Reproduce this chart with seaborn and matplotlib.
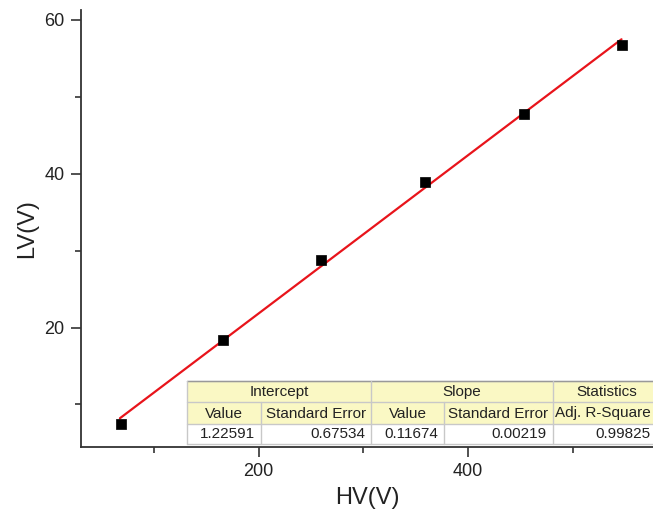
import numpy as np
import pandas as pd
import seaborn as sns
import matplotlib
matplotlib.use("Agg")
import matplotlib.pyplot as plt
from matplotlib.patches import Rectangle
from matplotlib.ticker import MultipleLocator

# ---- data ----
hv = [68.4, 165.8, 259.8, 359.3, 453.2, 546.7]
lv = [7.5, 18.4, 28.8, 38.9, 47.8, 56.8]
x_label = "HV(V)"
y_label = "LV(V)"
table_groups = ["Intercept", "Slope", "Statistics"]
table_cols = ["Value", "Standard Error", "Value", "Standard Error", "Adj. R-Square"]
table_vals = ["1.22591", "0.67534", "0.11674", "0.00219", "0.99825"]

sns.set_style("ticks")
plt.rcParams['font.family'] = ['Liberation Sans', 'DejaVu Sans']

W, H = 653, 516
fig = plt.figure(figsize=(W / 100, H / 100), dpi=100)
ax = fig.add_axes([81 / W, 1 - 446.7 / H, 1 - 81 / W, (446.7 - 10) / H])

df = pd.DataFrame({"HV": hv, "LV": lv})
slope, intercept = np.polyfit(df["HV"], df["LV"], 1)
xs = np.array([df["HV"].min() - 1, df["HV"].max()])
sns.lineplot(x=xs, y=intercept + slope * xs, ax=ax, color="#e8141b", lw=1.6, zorder=2)
sns.scatterplot(data=df, x="HV", y="LV", ax=ax, marker="s", s=62, color="black",
                edgecolor="black", linewidth=0.5, zorder=3)

ax.set_xlim(30.2, 576.8)
ax.set_ylim(4.5, 61.3)
ax.xaxis.set_major_locator(MultipleLocator(200))
ax.xaxis.set_minor_locator(MultipleLocator(100))
ax.yaxis.set_major_locator(MultipleLocator(20))
ax.yaxis.set_minor_locator(MultipleLocator(10))
ax.tick_params(which="major", direction="out", length=7, width=1.2, labelsize=13,
               colors="#333333", labelcolor="#222222", pad=5)
ax.tick_params(which="minor", direction="out", length=4, width=1.2, colors="#333333")
for s in ["top", "right"]:
    ax.spines[s].set_visible(False)
for s in ["left", "bottom"]:
    ax.spines[s].set_linewidth(1.3)
    ax.spines[s].set_color("#333333")
ax.set_xlabel(x_label, fontsize=17, color="#222222", labelpad=5)
ax.set_ylabel(y_label, fontsize=17, color="#222222", labelpad=4)

# ---- statistics table (pixel layout) ----
tx = fig.add_axes([187 / W, 1 - 444 / H, (662 - 187) / W, (444 - 381) / H])
tx.set_xlim(187, 662)
tx.set_ylim(444, 381)
tx.axis("off")
cb = [187, 261, 371, 444, 553, 662]
rb = [381, 402, 424, 444]
yellow = "#FAF8C4"
grid = "#c8c8c8"
tx.add_patch(Rectangle((cb[0], rb[0]), cb[-1] - cb[0], rb[2] - rb[0], facecolor=yellow,
                       edgecolor="none", zorder=0))
tx.add_patch(Rectangle((cb[0], rb[2]), cb[-1] - cb[0], rb[3] - rb[2], facecolor="white",
                       edgecolor="none", zorder=0))
for y in rb:
    tx.plot([cb[0], cb[-1]], [y, y], color=grid, lw=1, zorder=1, clip_on=False)
tx.plot([cb[0], cb[-1]], [rb[0], rb[0]], color="#999999", lw=1, zorder=1, clip_on=False)
group_spans = [(cb[0], cb[2]), (cb[2], cb[4]), (cb[4], cb[5])]
for (a, b) in group_spans:
    tx.plot([a, a], [rb[0], rb[3]], color=grid, lw=1, zorder=1, clip_on=False)
for c in [cb[1], cb[3]]:
    tx.plot([c, c], [rb[1], rb[3]], color=grid, lw=1, zorder=1, clip_on=False)
fs = 11
for name, (a, b) in zip(table_groups, group_spans):
    cx = (a + b) / 2 if b < 600 else 607
    tx.text(cx, (rb[0] + rb[1]) / 2 + 0.5, name, ha="center", va="center",
            fontsize=fs, color="#222222", clip_on=False)
for i, name in enumerate(table_cols):
    a, b = cb[i], cb[i + 1]
    if i == 4:
        tx.text(651, (rb[1] + rb[2]) / 2 + 0.5, name, ha="right", va="center",
                fontsize=fs, color="#222222", clip_on=False)
    else:
        tx.text((a + b) / 2, (rb[1] + rb[2]) / 2 + 0.5, name, ha="center", va="center",
                fontsize=fs, color="#222222", clip_on=False)
for i, v in enumerate(table_vals):
    b = cb[i + 1]
    right = b - 6 if i < 4 else 650
    tx.text(right, (rb[2] + rb[3]) / 2 + 0.5, v, ha="right", va="center",
            fontsize=fs, color="#222222", clip_on=False)

fig.savefig("out.png", dpi=100)
